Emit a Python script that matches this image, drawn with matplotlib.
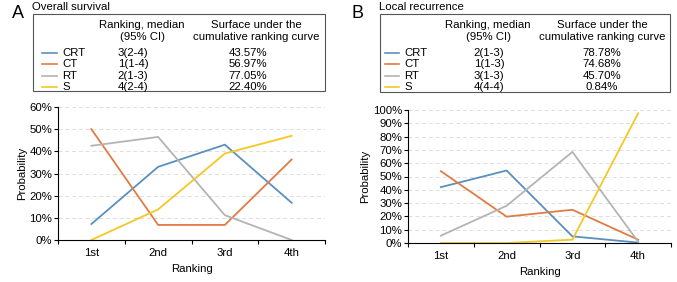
import matplotlib
matplotlib.use("Agg")
import matplotlib.pyplot as plt
from matplotlib.patches import Rectangle
from matplotlib.lines import Line2D
from matplotlib.ticker import PercentFormatter

plt.rcParams['font.family'] = ['Liberation Sans', 'DejaVu Sans']

W, H = 677, 282

rankings = ["1st", "2nd", "3rd", "4th"]
treatments = ["CRT", "CT", "RT", "S"]
colors = ["#5a8fc0", "#e07b45", "#b4b4b4", "#f4c824"]

# Overall survival
os_median = ["3(2-4)", "1(1-4)", "2(1-3)", "4(2-4)"]
os_sucra = ["43.57%", "56.97%", "77.05%", "22.40%"]
os_crt = [7.2, 33.0, 43.0, 16.8]
os_ct = [50.0, 6.8, 6.8, 36.3]
os_rt = [42.5, 46.5, 11.2, 0.0]
os_s = [0.0, 13.8, 39.0, 47.0]

# Local recurrence
lr_median = ["2(1-3)", "1(1-3)", "3(1-3)", "4(4-4)"]
lr_sucra = ["78.78%", "74.68%", "45.70%", "0.84%"]
lr_crt = [42.0, 54.5, 5.0, 0.3]
lr_ct = [54.0, 19.8, 25.0, 2.5]
lr_rt = [5.5, 28.0, 68.5, 1.0]
lr_s = [0.0, 0.0, 2.5, 97.5]

FS = 8.2


def fx(x):
    return x / W


def fy(y):
    return 1 - y / H


fig = plt.figure(figsize=(W / 100, H / 100), dpi=100)


def panel(letter, title, x0, box, cols, medians, sucras, series, ax_rect, ymax):
    # panel letter and title
    fig.text(fx(x0), fy(13), letter, fontsize=13, va="center", ha="left")
    fig.text(fx(box[0] - 1), fy(7), title, fontsize=FS, va="center", ha="left")
    # table box
    bx0, by0, bx1, by1 = box
    fig.add_artist(Rectangle((fx(bx0), fy(by1)), fx(bx1 - bx0), (by1 - by0) / H,
                             transform=fig.transFigure, fill=False,
                             edgecolor="#555555", lw=0.8))
    lx0, lx1, tx, mh, mv, sh, sv = cols
    fig.text(fx(mh), fy(25), "Ranking, median", fontsize=FS, ha="center", va="center")
    fig.text(fx(mh), fy(37), "(95% CI)", fontsize=FS, ha="center", va="center")
    fig.text(fx(sh), fy(25), "Surface under the", fontsize=FS, ha="center", va="center")
    fig.text(fx(sh), fy(37), "cumulative ranking curve", fontsize=FS, ha="center", va="center")
    for i, name in enumerate(treatments):
        yy = 52.5 + i * 11.6
        fig.add_artist(Line2D([fx(lx0), fx(lx1)], [fy(yy), fy(yy)],
                              transform=fig.transFigure, color=colors[i], lw=1.2))
        fig.text(fx(tx), fy(yy), name, fontsize=FS, ha="left", va="center")
        fig.text(fx(mv), fy(yy), medians[i], fontsize=FS, ha="center", va="center")
        fig.text(fx(sv), fy(yy), sucras[i], fontsize=FS, ha="center", va="center")

    ax = fig.add_axes(ax_rect)
    xs = range(1, len(rankings) + 1)
    for i, vals in enumerate(series):
        ax.plot(xs, vals, color=colors[i], lw=1.3)
    ax.set_xlim(0.5, 4.5)
    ax.set_ylim(0, ymax)
    ax.set_yticks(range(0, ymax + 1, 10))
    ax.yaxis.set_major_formatter(PercentFormatter(decimals=0))
    ax.set_xticks(list(xs))
    ax.set_xticklabels(rankings)
    ax.set_xticks([0.5, 1.5, 2.5, 3.5, 4.5], minor=True)
    ax.tick_params(axis="x", which="major", length=0, labelsize=FS, pad=6)
    ax.tick_params(axis="x", which="minor", length=3, width=0.8)
    ax.tick_params(axis="y", length=3, width=0.8, labelsize=FS, pad=1)
    ax.grid(axis="y", ls=(0, (4, 3)), color="#dddddd", lw=0.7)
    ax.set_axisbelow(True)
    for s in ["top", "right"]:
        ax.spines[s].set_visible(False)
    ax.spines["left"].set_linewidth(0.8)
    ax.spines["bottom"].set_linewidth(0.8)
    ax.set_xlabel("Ranking", fontsize=FS, labelpad=4)
    ax.set_ylabel("Probability", fontsize=FS, labelpad=2)
    return ax


panel("A", "Overall survival", 12, (33, 14, 325, 91),
      (42, 57, 62, 142, 133, 256, 248),
      os_median, os_sucra, [os_crt, os_ct, os_rt, os_s],
      [fx(58), fy(240), fx(325 - 58), (240 - 107) / H], 60)

panel("B", "Local recurrence", 352, (380, 14, 670, 92),
      (385, 399, 404, 488, 489, 602, 602),
      lr_median, lr_sucra, [lr_crt, lr_ct, lr_rt, lr_s],
      [fx(408), fy(243), fx(671 - 408), (243 - 110) / H], 100)

fig.savefig("out.png", dpi=100)
